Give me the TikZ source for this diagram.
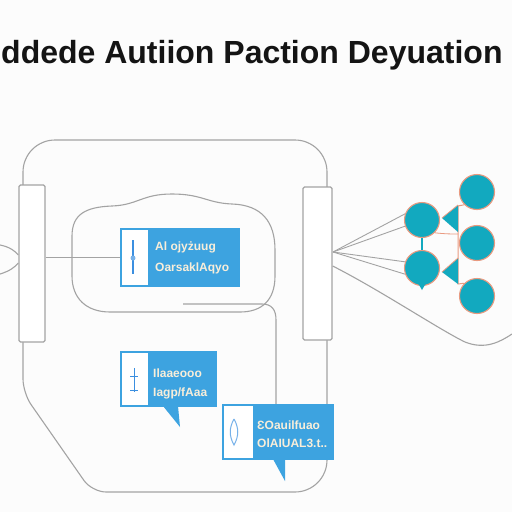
\documentclass[tikz,border=0pt]{standalone}
\usepackage{fontspec}
\setmainfont{Liberation Sans}
\definecolor{gl}{HTML}{A3A3A3}
\definecolor{bx}{HTML}{3DA3E0}
\definecolor{tl}{HTML}{12A9BF}
\definecolor{sal}{HTML}{E99A80}
\definecolor{cr}{HTML}{F8EEDA}
\definecolor{ic}{HTML}{3B8FE0}
\begin{document}
\begin{tikzpicture}[x=1pt,y=-1pt,
  gline/.style={draw=gl, line width=1.1pt},
  bluebox/.style={fill=bx, draw=none, inner sep=0pt},
  panel/.style={fill=white, draw=none, inner sep=0pt},
  btext/.style={text=cr, font=\bfseries\fontsize{12}{14}\selectfont, align=left, anchor=west, inner sep=0pt},
  bar/.style={fill=white, draw=gl, line width=1.3pt, rounded corners=1.5pt, inner sep=0pt},
  neuron/.style={circle, fill=tl, draw=sal, line width=1.1pt, minimum size=35pt, inner sep=0pt},
  tri/.style={fill=tl, draw=none}]
\useasboundingbox (0,0) rectangle (512,512);
\fill[white!98!gray] (0,0) rectangle (512,512);
% title
\node[font=\bfseries\fontsize{32}{32}\selectfont, anchor=base west, inner sep=0pt, text=black!92] (title) at (1,63) {ddede Autiion Paction Deyuation};
% outer frame
\draw[gline] (23,300) [rounded corners=32] -- (23,140) -- (327,140) -- (327,492) [rounded corners=14] -- (92,492) -- (23,393) -- (23,300);
% cloud
\draw[gline] (72,262) -- (72,236) .. controls (72,214) and (86,207) .. (112,206) .. controls (138,205) and (142,194) .. (172,194) .. controls (202,194) and (207,203) .. (232,204) .. controls (262,205) and (275,222) .. (275,250) -- (275,276) .. controls (275,300) and (262,312) .. (240,312) -- (110,312) .. controls (86,312) and (72,298) .. (72,276) -- cycle;
% bars
\node[bar, minimum width=26pt, minimum height=157pt] (lbar) at (32,263.5) {};
\node[bar, minimum width=29pt, minimum height=153pt] (rbar) at (317.5,263.5) {};
% incoming lens on left
\coordinate (lin1) at (0,245);
\coordinate (lin2) at (0,274);
\draw[gline] (lin1) .. controls (10,247) and (15,251) .. (lbar.west |- 0,255);
\draw[gline] (lin2) .. controls (10,271) and (15,267) .. (lbar.west |- 0,263);
% box 1
\node[bluebox, minimum width=120pt, minimum height=59pt] (b1) at (180,257.5) {};
\node[panel, minimum width=26pt, minimum height=55pt] (p1) at (135,257.5) {};
\draw[ic, line width=1.6pt] (133,240) -- (133,274);
\fill[ic!70] (133,258) circle (2.5pt);
\node[btext] (t1a) at (155,247) {Al ojyżuug};
\node[btext] (t1b) at (155,268) {OarsaklAqyo};
\draw[gline] (lbar.east |- b1.west) -- (b1.west);
% box 2
\node[bluebox, minimum width=97pt, minimum height=56pt] (b2) at (168.5,379) {};
\fill[bx] (163,406) -- (178,406) -- (180,427) -- cycle;
\node[panel, minimum width=26pt, minimum height=52pt] (p2) at (135,379) {};
\draw[ic, line width=1pt] (134,368) -- (134,392) (130,376) -- (138,376) (130,390) -- (138,390);
\node[btext] (t2a) at (153,373) {Ilaaeooo};
\node[btext] (t2b) at (153,393) {Iagp/fAaa};
% box 3
\node[bluebox, minimum width=112pt, minimum height=56pt] (b3) at (278,432) {};
\fill[bx] (273,459) -- (285,459) -- (285,481) -- cycle;
\node[panel, minimum width=29pt, minimum height=52pt] (p3) at (238.5,432) {};
\draw[ic!70, line width=1pt] (234,419) .. controls (229,428) and (229,436) .. (234,445) .. controls (239,436) and (239,428) .. (234,419);
\node[btext] (t3a) at (257,425) {ƐOauilfuao};
\node[btext] (t3b) at (257,443) {OlAIUAL3.t..};
% connector from cloud to box 3
\coordinate (c3s) at (183,304);
\draw[gline] (c3s) -- (262,304) .. controls (272,304) and (276,310) .. (276,320) -- (b3.north -| 276,0);
% network
\node[neuron] (nA) at (422,220) {};
\node[neuron] (nB) at (422,268) {};
\node[neuron] (c1) at (477,192) {};
\node[neuron] (c2) at (477,243) {};
\node[neuron] (c3) at (477,296) {};
\draw[sal, line width=1pt] (c1.south west) -- (458,206) -- (458,284) -- (c3.north west);
\draw[sal, line width=0.8pt] (nA.south east) .. controls (445,234) and (452,234) .. (458,234);
\draw[tl, line width=2pt] (nA.south) -- (nB.north);
\fill[tl] (nB.south) ++(-4,-3) -- ++(4,7) -- ++(4,-7) -- cycle;
\fill[tl] (442,218) -- (458,205) -- (458,232) -- cycle;
\fill[tl] (442,272) -- (458,258) -- (458,284) -- cycle;
\draw[sal, line width=0.8pt] (442,218) -- (458,205) (442,272) -- (458,258);
% fan lines
\coordinate (fan) at (333,252);
\draw[gl, line width=0.9pt] (fan) -- (nA.160);
\draw[gl, line width=0.9pt] (fan) -- (nA.200);
\draw[gl, line width=0.9pt] (fan) -- (nB.160);
\draw[gl, line width=0.9pt] (fan) -- (nB.200);
\coordinate (outR) at (512,334);
\draw[gline] (rbar.east |- 0,266) .. controls (380,290) and (440,330) .. (465,342) .. controls (485,350) and (500,342) .. (outR);
\end{tikzpicture}
\end{document}
